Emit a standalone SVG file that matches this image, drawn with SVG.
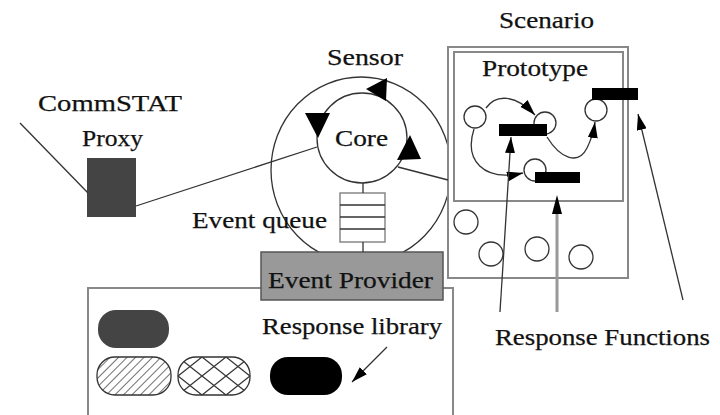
<svg xmlns="http://www.w3.org/2000/svg" width="720" height="415" viewBox="0 0 720 415">
<defs>
<style>
text{font-family:"Liberation Serif","Times New Roman","DejaVu Serif",serif;font-size:24px;fill:#111;stroke:#111;stroke-width:0.25}
.ln{stroke:#333;stroke-width:1.3;fill:none}
.gbox{stroke:#888;stroke-width:2;fill:#fff}
.ring{stroke:#333;stroke-width:1.3;fill:#fff}
.bar{fill:#000}
.tri{fill:#000}
</style>
<marker id="ah" markerUnits="userSpaceOnUse" markerWidth="18" markerHeight="10" refX="16" refY="5" orient="auto">
<path d="M0,0 L16,5 L0,10 z" fill="#000"/>
</marker>
<pattern id="hatch" width="6" height="6" patternUnits="userSpaceOnUse" patternTransform="rotate(45)">
<rect width="6" height="6" fill="#fff"/>
<line x1="0" y1="0" x2="0" y2="6" stroke="#333" stroke-width="1.4"/>
</pattern>
<pattern id="cross" width="24" height="19" patternUnits="userSpaceOnUse" x="178" y="357">
<rect width="24" height="19" fill="#fff"/>
<path d="M0,0 L24,19 M24,0 L0,19" stroke="#333" stroke-width="1.3"/>
</pattern>
</defs>
<rect width="720" height="415" fill="#fff"/>

<g id="response-library">
<rect class="gbox" x="88" y="288" width="365" height="140"/>
<rect x="98" y="310" width="71" height="38" rx="18" fill="#444"/>
<rect x="97" y="357" width="74" height="38" rx="18" fill="url(#hatch)" stroke="#333" stroke-width="1.3"/>
<rect x="178" y="357" width="72" height="38" rx="18" fill="url(#cross)" stroke="#333" stroke-width="1.3"/>
<rect x="270" y="357" width="72" height="38" rx="18" fill="#000"/>
<text x="262" y="334" textLength="180" lengthAdjust="spacingAndGlyphs">Response library</text>
</g>

<g id="commstat-proxy">
<text x="38" y="111" textLength="144" lengthAdjust="spacingAndGlyphs">CommSTAT</text>
<text x="82" y="146" textLength="61" lengthAdjust="spacingAndGlyphs">Proxy</text>
<rect x="87" y="158" width="49" height="59" fill="#444"/>
</g>

<g id="sensor">
<text x="327" y="65" textLength="76" lengthAdjust="spacingAndGlyphs">Sensor</text>
<ellipse class="ln" cx="361" cy="170" rx="90" ry="93"/>
</g>

<g id="core">
<circle class="ring" cx="362" cy="138" r="45"/>
<text x="335" y="146" textLength="53" lengthAdjust="spacingAndGlyphs">Core</text>
<polygon class="tri" points="366,89 387,78 386,101"/>
<polygon class="tri" points="305,113 330,113 318,138"/>
<polygon class="tri" points="410,135 397,160 421,159"/>
</g>

<g id="event-queue">
<text x="192" y="228" textLength="135" lengthAdjust="spacingAndGlyphs">Event queue</text>
<rect x="340" y="193" width="45" height="49" fill="#fff" stroke="#888" stroke-width="1.5"/>
<path d="M340,205 H385 M340,217 H385 M340,229 H385" stroke="#333" stroke-width="1.5"/>
</g>

<g id="scenario">
<text x="499" y="28" textLength="95" lengthAdjust="spacingAndGlyphs">Scenario</text>
<rect class="gbox" x="448" y="47" width="180" height="231"/>
<circle class="ring" cx="466" cy="222" r="12"/>
<circle class="ring" cx="491" cy="254" r="12"/>
<circle class="ring" cx="537" cy="249" r="12"/>
<circle class="ring" cx="581" cy="257" r="12"/>
</g>

<g id="prototype">
<rect class="gbox" x="454" y="52" width="169" height="149"/>
<text x="482" y="76" textLength="106" lengthAdjust="spacingAndGlyphs">Prototype</text>
<circle class="ring" cx="475" cy="117" r="11"/>
<circle class="ring" cx="545" cy="123" r="11"/>
<circle class="ring" cx="596" cy="110" r="11"/>
<circle class="ring" cx="535" cy="170" r="11"/>
<rect class="bar" x="499" y="124" width="48" height="12"/>
<rect class="bar" x="592" y="88" width="46" height="12"/>
<rect class="bar" x="535" y="172" width="45" height="11"/>
</g>

<g id="event-provider">
<rect x="261" y="252" width="182" height="48" fill="#999" stroke="#555" stroke-width="1.5"/>
<text x="268" y="288" textLength="165" lengthAdjust="spacingAndGlyphs">Event Provider</text>
</g>

<g id="response-functions">
<text x="495" y="345" textLength="215" lengthAdjust="spacingAndGlyphs">Response Functions</text>
</g>

<g id="connectors">
<line class="ln" x1="20" y1="123" x2="88" y2="193"/>
<line class="ln" x1="136" y1="206" x2="317" y2="147"/>
<line class="ln" x1="398" y1="167" x2="448" y2="180"/>
<line class="ln" x1="363" y1="183" x2="363" y2="193"/>
<line class="ln" x1="363" y1="242" x2="363" y2="252"/>
<path class="ln" d="M486,108 C496,94 515,94 535,115" marker-end="url(#ah)"/>
<path class="ln" d="M547,137 C560,158 578,166 587,148 Q593,136 595,122" marker-end="url(#ah)"/>
<path class="ln" d="M474,129 C464,160 483,182 523,173" marker-end="url(#ah)"/>
<path class="ln" d="M500,312 L511,137" marker-end="url(#ah)"/>
<path d="M557,312 L557,205" stroke="#999" stroke-width="3" fill="none"/>
<polygon points="557,195 552,214 562,214" fill="#000"/>
<path class="ln" d="M683,300 L638,114" marker-end="url(#ah)"/>
<path class="ln" d="M387,347 L352,382" marker-end="url(#ah)"/>
</g>
</svg>
